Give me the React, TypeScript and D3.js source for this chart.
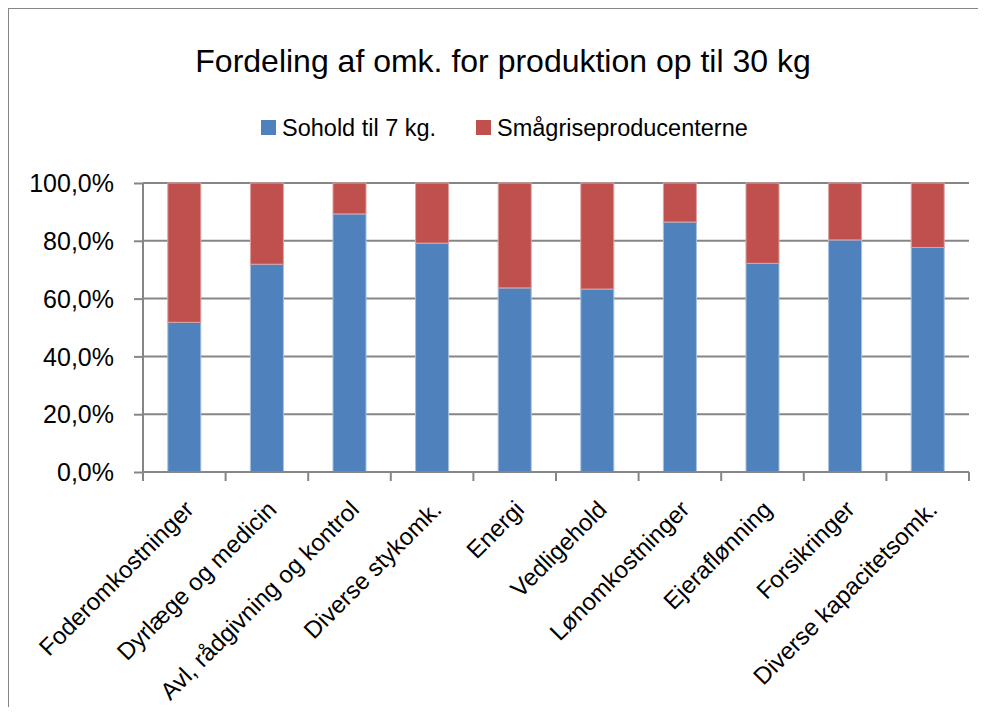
import React, { useEffect, useRef } from "react";
import * as d3 from "d3";

const categories = [
  "Foderomkostninger",
  "Dyrlæge og medicin",
  "Avl, rådgivning og kontrol",
  "Diverse stykomk.",
  "Energi",
  "Vedligehold",
  "Lønomkostninger",
  "Ejeraflønning",
  "Forsikringer",
  "Diverse kapacitetsomk.",
];
const sohold = [51.8, 71.9, 89.3, 79.2, 63.7, 63.3, 86.5, 72.2, 80.3, 77.7];
const smaagrise = sohold.map((v) => 100 - v);
const seriesNames = ["Sohold til 7 kg.", "Smågriseproducenterne"];
const seriesColors = ["#4F81BD", "#C0504D"];
const yTicks = [0, 20, 40, 60, 80, 100];

const App = () => {
  const svgRef = useRef<SVGSVGElement>(null);

  useEffect(() => {
    const w = 986;
    const h = 715;
    const font = "'Liberation Sans', Arial, sans-serif";
    const svg = d3.select(svgRef.current).attr("width", w).attr("height", h);
    svg.selectAll("*").remove();

    // frame (only top and left edges are visible)
    svg
      .append("path")
      .attr("d", `M8,${h}V8H${w}`)
      .attr("fill", "none")
      .attr("stroke", "#868686")
      .attr("stroke-width", 2);

    const left = 143;
    const right = 969;
    const top = 183;
    const bottom = 472;

    const x = d3.scaleBand().domain(categories).range([left, right]).paddingInner(0.6).paddingOuter(0.3);
    const xb = d3.scaleBand().domain(categories).range([left, right]);
    const y = d3.scaleLinear().domain([0, 100]).range([bottom, top]);

    // title
    svg
      .append("text")
      .attr("x", 503)
      .attr("y", 72)
      .attr("text-anchor", "middle")
      .style("font-family", font)
      .style("font-size", "32px")
      .text("Fordeling af omk. for produktion op til 30 kg");

    // legend
    const legendX = [261, 476];
    seriesNames.forEach((name, i) => {
      svg
        .append("rect")
        .attr("x", legendX[i])
        .attr("y", 120)
        .attr("width", 15)
        .attr("height", 15)
        .attr("fill", seriesColors[i]);
      svg
        .append("text")
        .attr("x", legendX[i] + 21)
        .attr("y", 136)
        .style("font-family", font)
        .style("font-size", "23.5px")
        .text(name);
    });

    // gridlines
    svg
      .append("g")
      .selectAll("line")
      .data(yTicks.filter((t) => t > 0))
      .join("line")
      .attr("x1", left)
      .attr("x2", right)
      .attr("y1", (d) => y(d))
      .attr("y2", (d) => y(d))
      .attr("stroke", "#868686")
      .attr("stroke-width", 2);

    // bars
    const stack = [sohold, smaagrise];
    stack.forEach((vals, s) => {
      svg
        .append("g")
        .selectAll("rect")
        .data(vals)
        .join("rect")
        .attr("x", (d, i) => x(categories[i])!)
        .attr("width", x.bandwidth())
        .attr("y", (d, i) => y((s === 0 ? 0 : sohold[i]) + d))
        .attr("height", (d) => y(0) - y(d))
        .attr("fill", seriesColors[s])
        .attr("stroke", s === 0 ? "#A7C0DE" : "#DDA3A2")
        .attr("stroke-width", 1);
    });

    // y axis
    const yAxis = svg
      .append("g")
      .attr("transform", `translate(${left},0)`)
      .call(d3.axisLeft(y).tickValues(yTicks).tickSize(9).tickPadding(20).tickFormat((d) => `${(d as number).toFixed(1).replace(".", ",")}%`));
    yAxis.selectAll("path, line").attr("stroke", "#868686").attr("stroke-width", 2);
    yAxis.select(".domain").attr("d", `M0,${top}V${bottom}`);
    yAxis
      .selectAll("text")
      .style("font-family", font)
      .style("font-size", "25px")
      .attr("fill", "black")
      .attr("dy", "0.35em");

    // x axis
    const xg = svg.append("g");
    xg.append("line")
      .attr("x1", left)
      .attr("x2", right)
      .attr("y1", bottom)
      .attr("y2", bottom)
      .attr("stroke", "#868686")
      .attr("stroke-width", 2);
    const boundaries = categories.map((c) => xb(c)!).concat([right]);
    xg.selectAll(".tk")
      .data(boundaries)
      .join("line")
      .attr("x1", (d) => d)
      .attr("x2", (d) => d)
      .attr("y1", bottom)
      .attr("y2", bottom + 9)
      .attr("stroke", "#868686")
      .attr("stroke-width", 2);
    xg.selectAll(".lbl")
      .data(categories)
      .join("text")
      .attr("transform", (d) => `translate(${xb(d)! + xb.bandwidth() / 2 + 5},${bottom + 33}) rotate(-45)`)
      .attr("text-anchor", "end")
      .attr("dy", "0.35em")
      .style("font-family", font)
      .style("font-size", "24px")
      .text((d) => d);
  }, []);

  return (
    <div style={{ margin: -8 }}>
      <svg ref={svgRef} style={{ display: "block" }}></svg>
    </div>
  );
};

export default App;
